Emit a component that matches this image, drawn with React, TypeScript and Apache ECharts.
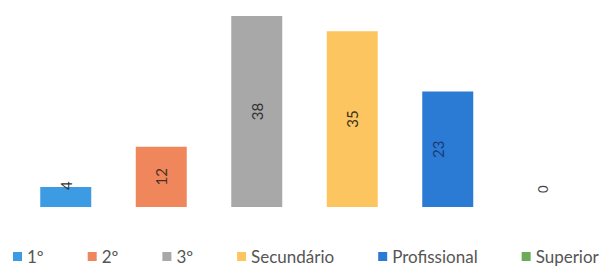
import React, { useEffect, useRef } from "react";
import * as echarts from "echarts";

const categories = ["1º", "2º", "3º", "Secundário", "Profissional", "Superior"];
const values = [4, 12, 38, 35, 23, 0];
const colors = ["#3c9be2", "#f0875c", "#a8a8a8", "#fdc55f", "#2b7ad3", "#6cab5a"];
const labelColors = ["#333333", "#4a3020", "#333333", "#3a3020", "#1a3a7a", "#444444"];

export default function App() {
  const ref = useRef<HTMLDivElement>(null);
  useEffect(() => {
    if (!ref.current) return;
    const chart = echarts.init(ref.current, undefined, { renderer: "svg" });
    const series = categories.map((name, i) => {
      let label: any = {
        show: true,
        position: "inside",
        rotate: 90,
        fontSize: 15,
        fontFamily: "Lato",
        color: labelColors[i],
      };
      if (i === 0) {
        label = { ...label, position: "top", distance: -3, align: "left", verticalAlign: "middle" };
      }
      if (i === 5) {
        label = { ...label, position: "top", distance: 14, align: "left", verticalAlign: "middle", fontSize: 13 };
      }
      if (i === 4) {
        label = { ...label, offset: [0, -10] };
      }
      return {
        name,
        type: "bar",
        stack: "all",
        barWidth: 51,
        itemStyle: { color: colors[i] },
        label,
        data: categories.map((_, j) => (j === i ? values[i] : "-")),
      };
    });
    chart.setOption({
      animation: false,
      grid: { left: 18, right: 15, top: 6, bottom: 59 },
      xAxis: {
        type: "category",
        data: categories,
        show: false,
      },
      yAxis: { type: "value", min: 0, max: 40, show: false },
      legend: {
        left: 8,
        top: 243,
        width: 598,
        padding: 5,
        icon: "rect",
        itemWidth: 9,
        itemHeight: 9,
        itemGap: 44,
        textStyle: { fontFamily: "Lato", fontSize: 17, color: "#555555" },
        data: categories,
      },
      series,
    });
    return () => chart.dispose();
  }, []);
  return <div ref={ref} style={{ width: 606, height: 266, position: "absolute", left: 0, top: 0, background: "#fff" }} />;
}
